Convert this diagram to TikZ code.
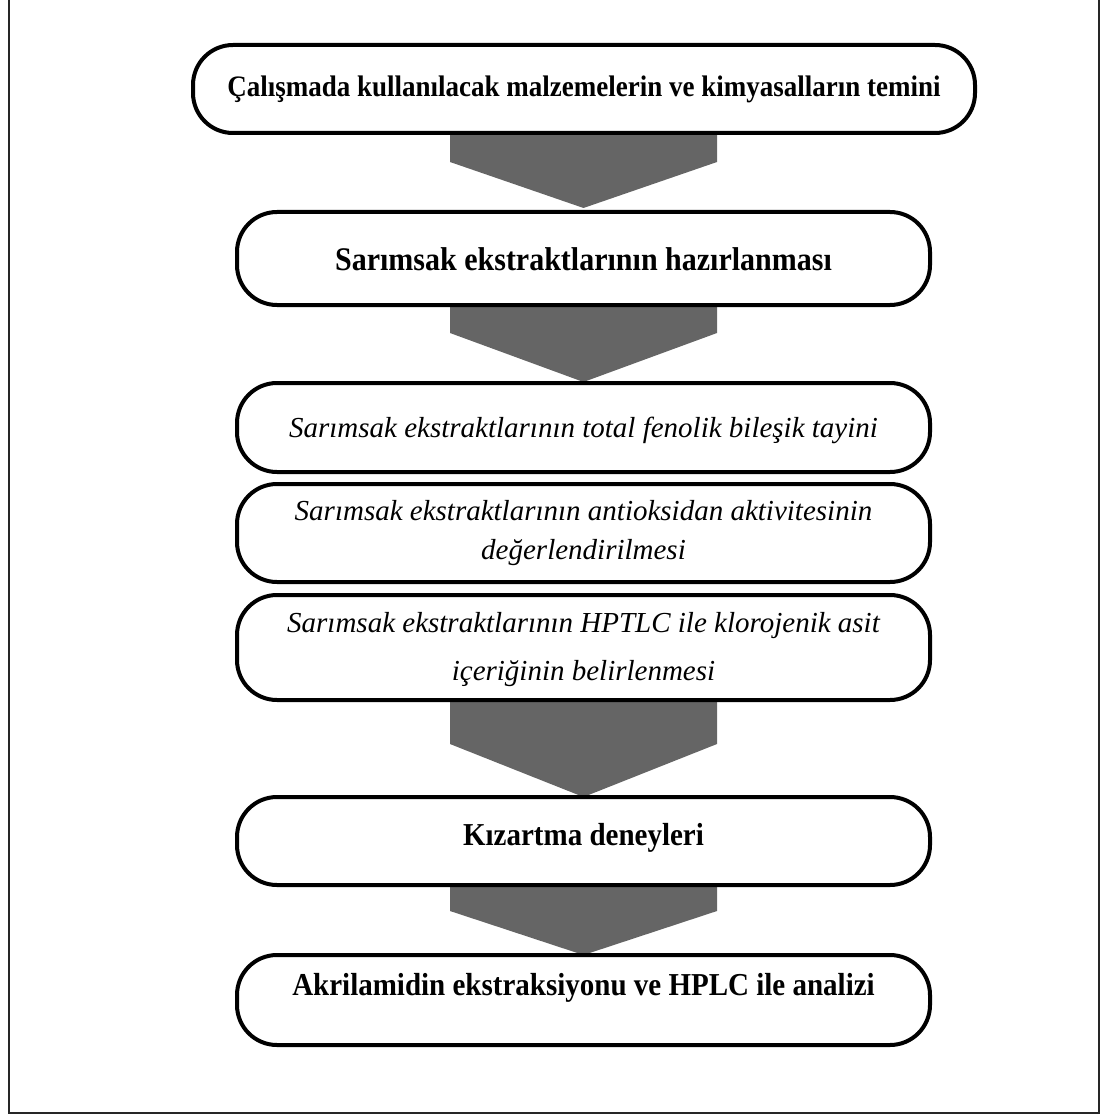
\documentclass[tikz,border=0pt]{standalone}
\usepackage{graphicx}
\usepackage{fontspec}
\setmainfont{Liberation Serif}
\definecolor{arrowgray}{HTML}{656565}
\newcommand{\tallbox}[1]{\scalebox{1}[1.1]{#1}}
\tikzset{
  stepbox/.style={draw=black, line width=4pt, rounded corners=40pt, fill=white},
  bigarrow/.style={fill=arrowgray, draw=none},
  boldtxt/.style={font=\fontsize{29}{34}\selectfont\bfseries, inner sep=0pt, align=center},
  italtxt/.style={font=\fontsize{29}{39}\selectfont\itshape, inner sep=0pt, align=center},
  frameline/.style={draw=black!85, line width=2pt}
}
\begin{document}
\begin{tikzpicture}[x=1pt,y=-1pt]
\useasboundingbox (0,0) rectangle (1103,1115);
% outer frame (top edge outside picture)
\draw[frameline] (9,0) -- (9,1113) -- (1099,1113) -- (1099,0);

% arrows
\fill[bigarrow] (450,133) -- (717,133) -- (717,162) -- (583.5,208) -- (450,162) -- cycle;
\fill[bigarrow] (450,305) -- (717,305) -- (717,333) -- (583.5,382) -- (450,333) -- cycle;
\fill[bigarrow] (450,700) -- (717,700) -- (717,744) -- (583.5,797) -- (450,744) -- cycle;
\fill[bigarrow] (450,885) -- (717,885) -- (717,911) -- (583.5,955) -- (450,911) -- cycle;

% boxes
\draw[stepbox] (193,45) rectangle (975,133);
\draw[stepbox] (237,212) rectangle (930,305);
\draw[stepbox] (237,383) rectangle (930,472);
\draw[stepbox] (237,484) rectangle (930,582);
\draw[stepbox] (237,595) rectangle (930,700);
\draw[stepbox] (237,797) rectangle (930,885);
\draw[stepbox] (237,955) rectangle (930,1045);

% texts
\node[boldtxt, font=\fontsize{27}{32}\selectfont\bfseries] (t1) at (584,89) {\tallbox{Çalışmada kullanılacak malzemelerin ve kimyasalların temini}};
\node[boldtxt, font=\fontsize{30}{36}\selectfont\bfseries] (t2) at (583.5,259) {\tallbox{Sarımsak ekstraktlarının hazırlanması}};
\node[italtxt] (t3) at (583.5,430) {Sarımsak ekstraktlarının total fenolik bileşik tayini};
\node[italtxt] (t4) at (583.5,533) {Sarımsak ekstraktlarının antioksidan aktivitesinin\\değerlendirilmesi};
\node[italtxt, font=\fontsize{29}{48}\selectfont\itshape] (t5) at (583.5,650) {Sarımsak ekstraktlarının HPTLC ile klorojenik asit\\içeriğinin belirlenmesi};
\node[boldtxt] (t6) at (583.5,838) {\tallbox{Kızartma deneyleri}};
\node[boldtxt] (t7) at (583.5,988) {\tallbox{Akrilamidin ekstraksiyonu ve HPLC ile analizi}};
\end{tikzpicture}
\end{document}
